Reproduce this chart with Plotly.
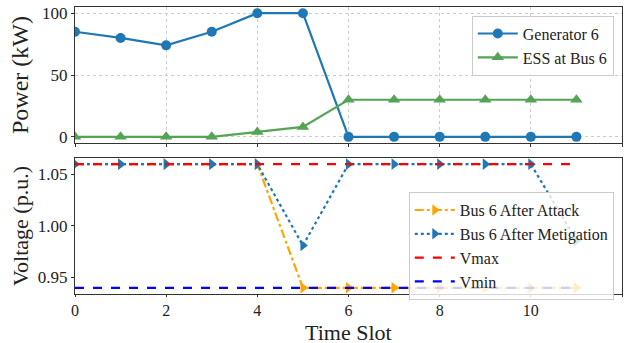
import plotly.graph_objects as go
from plotly.subplots import make_subplots

time_slots = list(range(12))
generator_6 = [85, 80, 74, 85, 100, 100, 0, 0, 0, 0, 0, 0]
ess_bus_6 = [0, 0, 0, 0, 4, 8, 30, 30, 30, 30, 30, 30]
v_after_attack = [1.06, 1.06, 1.06, 1.06, 1.06, 0.94, 0.94, 0.94, 0.94, 0.94, 0.94, 0.94]
v_after_mitigation = [1.06, 1.06, 1.06, 1.06, 1.06, 0.981, 1.06, 1.06, 1.06, 1.06, 1.06, 0.986]
vmax = [1.06] * 12
vmin = [0.94] * 12
x_ticks = [0, 2, 4, 6, 8, 10, 12]

FONT = "Liberation Serif, Times New Roman, serif"
BLUE = "#1f77b4"
GREEN = "#55a355"
ORANGE = "#ffa500"
TXT = "#222"

fig = make_subplots(rows=2, cols=1, shared_xaxes=False, vertical_spacing=0.052)

fig.add_trace(go.Scatter(x=time_slots, y=generator_6, name="Generator 6", mode="lines+markers",
                         line=dict(color=BLUE, width=2.2), marker=dict(symbol="circle", size=10, color=BLUE),
                         legend="legend"), row=1, col=1)
fig.add_trace(go.Scatter(x=time_slots, y=ess_bus_6, name="ESS at Bus 6", mode="lines+markers",
                         line=dict(color=GREEN, width=2.2), marker=dict(symbol="triangle-up", size=11, color=GREEN),
                         legend="legend"), row=1, col=1)

fig.add_trace(go.Scatter(x=time_slots, y=v_after_attack, name="Bus 6 After Attack", mode="lines+markers",
                         line=dict(color=ORANGE, width=2.2, dash="dashdot"),
                         marker=dict(symbol="triangle-right", size=10, color=ORANGE),
                         legend="legend2"), row=2, col=1)
fig.add_trace(go.Scatter(x=time_slots, y=v_after_mitigation, name="Bus 6 After Metigation", mode="lines+markers",
                         line=dict(color=BLUE, width=2.2, dash="dot"),
                         marker=dict(symbol="triangle-right", size=10, color=BLUE),
                         legend="legend2"), row=2, col=1)
fig.add_trace(go.Scatter(x=time_slots, y=vmax, name="Vmax", mode="lines",
                         line=dict(color="red", width=2.2, dash="dash"), legend="legend2"), row=2, col=1)
fig.add_trace(go.Scatter(x=time_slots, y=vmin, name="Vmin", mode="lines",
                         line=dict(color="blue", width=2.2, dash="dash"), legend="legend2"), row=2, col=1)

axis_common = dict(showline=True, linecolor="#333", linewidth=1, mirror=True, ticks="outside",
                   ticklen=3, tickcolor="#333", tickfont=dict(family=FONT, size=17, color=TXT),
                   zeroline=False, automargin=False)

fig.update_xaxes(range=[0, 12], tickvals=x_ticks, showticklabels=False, showgrid=True,
                 gridcolor="#cccccc", griddash="dot", gridwidth=1, row=1, col=1, **axis_common)
fig.update_yaxes(range=[-5, 105], tickvals=[0, 50, 100], showgrid=True, gridcolor="#cccccc",
                 griddash="dot", gridwidth=1, row=1, col=1,
                 title=dict(text="Power (kW)", font=dict(family=FONT, size=24, color=TXT), standoff=6),
                 **axis_common)
fig.update_xaxes(range=[0, 12], tickvals=x_ticks, showgrid=False, row=2, col=1,
                 **{**axis_common, "ticklen": 2, "tickfont": dict(family=FONT, size=16, color=TXT)})
fig.update_yaxes(range=[0.934, 1.066], tickvals=[0.95, 1.0, 1.05], ticktext=["0.95", "1.00", "1.05"],
                 showgrid=False, row=2, col=1,
                 title=dict(text="Voltage (p.u.)", font=dict(family=FONT, size=22, color=TXT), standoff=3),
                 **axis_common)

fig.add_annotation(text="Time Slot", xref="paper", yref="paper", x=0.5, y=-0.134,
                   xanchor="center", yanchor="middle", showarrow=False, borderpad=0,
                   font=dict(family=FONT, size=22, color=TXT))

legend_common = dict(bgcolor="rgba(255,255,255,0.8)", bordercolor="#cccccc", borderwidth=1,
                     font=dict(family=FONT, size=16, color=TXT), xanchor="right", yanchor="top",
                     tracegroupgap=0, itemwidth=40)
fig.update_layout(
    width=627, height=343,
    margin=dict(l=75, r=5, t=7, b=49),
    font=dict(family=FONT, color=TXT),
    plot_bgcolor="white", paper_bgcolor="white",
    showlegend=True,
    legend=dict(x=0.985, y=0.97, **legend_common),
    legend2=dict(x=0.985, y=0.355, **legend_common),
)

fig.write_html("out.html", config={"displayModeBar": False},
               post_script="document.body.style.margin='0px';")
